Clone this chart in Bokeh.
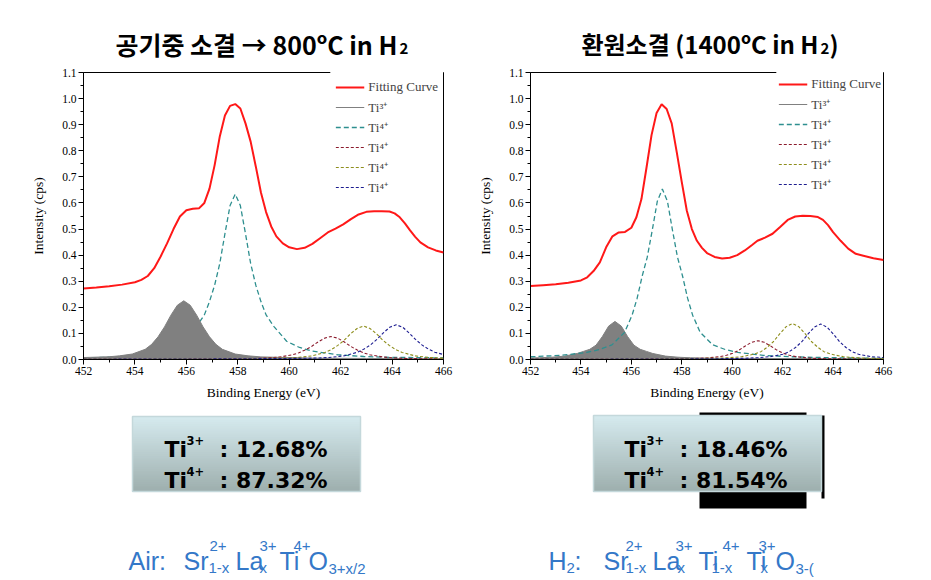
from bokeh.plotting import figure
from bokeh.models import Range1d, FixedTicker, PrintfTickFormatter, Legend, LegendItem
from bokeh.layouts import column, row
from bokeh.core.properties import value
from bokeh.embed import file_html
from bokeh.resources import INLINE

# ---------------- data ----------------
x_ticks = [452, 454, 456, 458, 460, 462, 464, 466]
x_minor = [453, 455, 457, 459, 461, 463, 465]
y_ticks = [0.0, 0.1, 0.2, 0.3, 0.4, 0.5, 0.6, 0.7, 0.8, 0.9, 1.0, 1.1]
y_minor = [0.05, 0.15, 0.25, 0.35, 0.45, 0.55, 0.65, 0.75, 0.85, 0.95, 1.05]

legend_labels = ["Fitting Curve", "Ti³⁺", "Ti⁴⁺", "Ti⁴⁺", "Ti⁴⁺", "Ti⁴⁺"]

# ---- left panel: sintered in air -> 800 C in H2 ----
air_fit_x = [452.0, 452.5, 453.0, 453.5, 454.0, 454.25, 454.5, 454.75, 455.0, 455.25, 455.5, 455.75,
             456.0, 456.25, 456.5, 456.7, 456.9, 457.1, 457.3, 457.5, 457.7, 457.9, 458.1, 458.3,
             458.5, 458.7, 458.9, 459.1, 459.3, 459.5, 459.75, 460.0, 460.3, 460.6, 460.9, 461.2,
             461.5, 461.8, 462.1, 462.4, 462.7, 463.0, 463.3, 463.6, 463.9, 464.1, 464.3, 464.5,
             464.7, 464.9, 465.1, 465.4, 465.7, 466.0]
air_fit_y = [0.272, 0.276, 0.281, 0.287, 0.296, 0.305, 0.320, 0.350, 0.395, 0.445, 0.500, 0.548,
             0.572, 0.578, 0.580, 0.600, 0.655, 0.745, 0.855, 0.935, 0.972, 0.979, 0.962, 0.905,
             0.835, 0.740, 0.640, 0.565, 0.510, 0.472, 0.445, 0.430, 0.423, 0.428, 0.443, 0.465,
             0.487, 0.502, 0.518, 0.538, 0.556, 0.566, 0.568, 0.568, 0.567, 0.560, 0.545, 0.522,
             0.495, 0.470, 0.449, 0.430, 0.418, 0.410]

air_ti3_x = [452.0, 453.0, 453.4, 453.9, 454.4, 454.65, 454.9, 455.15, 455.4, 455.65, 455.9, 456.15,
             456.4, 456.65, 456.9, 457.15, 457.4, 457.9, 458.4, 458.9, 459.9, 461.0, 463.0, 466.0]
air_ti3_y = [0.0075, 0.0105, 0.014, 0.021, 0.039, 0.058, 0.087, 0.125, 0.170, 0.208, 0.225, 0.208,
             0.170, 0.125, 0.087, 0.058, 0.039, 0.021, 0.014, 0.010, 0.0075, 0.005, 0.004, 0.003]

air_ti4a_x = [452.0, 453.0, 454.0, 454.9, 455.4, 455.9, 456.4, 456.7, 456.9, 457.1, 457.3, 457.5,
              457.7, 457.9, 458.1, 458.3, 458.5, 458.7, 458.9, 459.1, 459.4, 459.9, 460.4, 460.9,
              461.9, 462.9, 463.9, 466.0]
air_ti4a_y = [0.006, 0.009, 0.014, 0.032, 0.046, 0.070, 0.127, 0.171, 0.222, 0.285, 0.368, 0.482,
              0.590, 0.634, 0.590, 0.482, 0.368, 0.285, 0.222, 0.171, 0.127, 0.070, 0.046, 0.032,
              0.018, 0.0115, 0.0085, 0.006]

air_ti4b_x = [452.0, 456.0, 458.0, 458.63, 459.13, 459.63, 460.13, 460.38, 460.63, 460.88, 461.13,
              461.38, 461.63, 461.88, 462.13, 462.38, 462.63, 462.88, 463.13, 463.63, 464.13, 464.63, 466.0]
air_ti4b_y = [0.0005, 0.0012, 0.0026, 0.0037, 0.0057, 0.0097, 0.018, 0.026, 0.037, 0.051, 0.068,
              0.082, 0.088, 0.082, 0.068, 0.051, 0.037, 0.026, 0.018, 0.0097, 0.0057, 0.0037, 0.0019]

air_ti4c_x = [452.0, 456.0, 458.0, 459.89, 460.39, 460.89, 461.39, 461.64, 461.89, 462.14, 462.39,
              462.64, 462.89, 463.14, 463.39, 463.64, 463.89, 464.14, 464.39, 464.89, 465.39, 465.89, 466.0]
air_ti4c_y = [0.0008, 0.0015, 0.0025, 0.0054, 0.0083, 0.014, 0.027, 0.038, 0.054, 0.074, 0.099,
              0.119, 0.128, 0.119, 0.099, 0.074, 0.054, 0.038, 0.027, 0.014, 0.0083, 0.0054, 0.0052]

air_ti4d_x = [452.0, 456.0, 458.0, 460.0, 461.16, 461.66, 462.16, 462.66, 462.91, 463.16, 463.41,
              463.66, 463.91, 464.16, 464.41, 464.66, 464.91, 465.16, 465.41, 465.66, 466.0]
air_ti4d_y = [0.001, 0.0018, 0.0026, 0.004, 0.0056, 0.0086, 0.0146, 0.028, 0.040, 0.056, 0.077,
              0.102, 0.124, 0.133, 0.124, 0.102, 0.077, 0.056, 0.040, 0.028, 0.019]

# ---- right panel: reduction sintering (1400 C in H2) ----
h2_fit_x = [452.0, 452.5, 453.0, 453.5, 454.0, 454.25, 454.5, 454.75, 455.0, 455.25, 455.5, 455.75,
            456.0, 456.2, 456.4, 456.6, 456.8, 457.0, 457.2, 457.4, 457.6, 457.8, 458.0, 458.2,
            458.4, 458.6, 458.8, 459.0, 459.3, 459.6, 459.9, 460.2, 460.5, 460.8, 461.0, 461.3,
            461.6, 461.9, 462.2, 462.5, 462.8, 463.1, 463.4, 463.6, 463.8, 464.0, 464.3, 464.6,
            464.9, 465.2, 465.6, 466.0]
h2_fit_y = [0.282, 0.285, 0.288, 0.294, 0.303, 0.315, 0.339, 0.372, 0.430, 0.472, 0.487, 0.489,
            0.505, 0.545, 0.615, 0.735, 0.860, 0.945, 0.978, 0.960, 0.905, 0.795, 0.680, 0.570,
            0.500, 0.455, 0.428, 0.408, 0.393, 0.387, 0.390, 0.400, 0.418, 0.440, 0.455, 0.467,
            0.482, 0.508, 0.535, 0.548, 0.551, 0.550, 0.546, 0.535, 0.515, 0.488, 0.455, 0.425,
            0.405, 0.398, 0.388, 0.381]

h2_ti3_x = [452.0, 452.35, 452.85, 453.35, 453.85, 454.1, 454.35, 454.6, 454.85, 455.1, 455.35,
            455.6, 455.85, 456.1, 456.35, 456.6, 456.85, 457.35, 457.85, 458.35, 459.35, 461.0, 463.0, 466.0]
h2_ti3_y = [0.006, 0.0066, 0.0088, 0.013, 0.023, 0.031, 0.039, 0.055, 0.088, 0.128, 0.146,
            0.128, 0.088, 0.055, 0.039, 0.031, 0.023, 0.013, 0.0088, 0.0066, 0.0044, 0.004, 0.0035, 0.003]

h2_ti4a_x = [452.0, 453.23, 454.23, 454.73, 455.23, 455.73, 456.03, 456.23, 456.43, 456.63, 456.83,
             457.03, 457.23, 457.43, 457.63, 457.83, 458.03, 458.23, 458.43, 458.73, 459.23, 459.73,
             460.23, 461.23, 462.23, 463.23, 465.23, 466.0]
h2_ti4a_y = [0.0105, 0.016, 0.027, 0.038, 0.056, 0.104, 0.170, 0.235, 0.320, 0.392, 0.496,
             0.607, 0.653, 0.607, 0.496, 0.392, 0.320, 0.235, 0.170, 0.104, 0.056, 0.038,
             0.027, 0.016, 0.011, 0.008, 0.005, 0.0045]

h2_ti4b_x = [452.0, 455.0, 457.0, 458.02, 458.52, 459.02, 459.52, 459.77, 460.02, 460.27, 460.52,
             460.77, 461.02, 461.27, 461.52, 461.77, 462.02, 462.27, 462.52, 463.02, 463.52, 464.02, 466.0]
h2_ti4b_y = [0.0004, 0.0007, 0.0014, 0.0025, 0.0036, 0.0058, 0.011, 0.016, 0.024, 0.036, 0.052,
             0.066, 0.072, 0.066, 0.052, 0.036, 0.024, 0.016, 0.011, 0.0058, 0.0036, 0.0025, 0.0012]

h2_ti4c_x = [452.0, 456.0, 458.0, 459.39, 459.89, 460.39, 460.89, 461.14, 461.39, 461.64, 461.89,
             462.14, 462.39, 462.64, 462.89, 463.14, 463.39, 463.64, 463.89, 464.39, 464.89, 465.39, 466.0]
h2_ti4c_y = [0.0007, 0.0014, 0.0028, 0.0048, 0.0069, 0.011, 0.021, 0.030, 0.047, 0.069, 0.099,
             0.126, 0.138, 0.126, 0.099, 0.069, 0.047, 0.030, 0.021, 0.011, 0.0069, 0.0048, 0.0035]

h2_ti4d_x = [452.0, 456.0, 458.0, 460.0, 460.51, 461.01, 461.51, 462.01, 462.26, 462.51, 462.76,
             463.01, 463.26, 463.51, 463.76, 464.01, 464.26, 464.51, 464.76, 465.01, 465.51, 466.0]
h2_ti4d_y = [0.0007, 0.0014, 0.002, 0.0035, 0.0048, 0.0068, 0.011, 0.020, 0.030, 0.046, 0.068,
             0.098, 0.124, 0.136, 0.124, 0.098, 0.068, 0.046, 0.030, 0.020, 0.011, 0.0075]

# ratio boxes
air_ratio = ["12.68%", "87.32%"]
h2_ratio = ["18.46%", "81.54%"]

# ---------------- styling ----------------
RED = "#ff1818"
GRAY = "#808080"
TEAL = "#2e8f8f"
DRED = "#8b1a2c"
OLIVE = "#8e8e1c"
NAVY = "#1c1c90"
SERIF = "Liberation Serif"


def make_panel(width, bl, br, fit, ti3, ti4s, gray_on_top, leg_pad):
    p = figure(width=width, height=348, x_range=Range1d(452, 466), y_range=Range1d(0, 1.1),
               output_backend="svg", toolbar_location=None,
               min_border_left=bl, min_border_right=br, min_border_top=10, min_border_bottom=51)
    p.grid.visible = False
    p.outline_line_color = "black"
    p.outline_line_alpha = 1.0
    p.outline_line_width = 1

    if not gray_on_top:
        r_g = p.varea(x=ti3[0], y1=[0] * len(ti3[0]), y2=ti3[1], fill_color=GRAY)
        r_gl = p.line(ti3[0], ti3[1], line_color=GRAY, line_width=1)
    r_a = p.line(ti4s[0][0], ti4s[0][1], line_color=TEAL, line_width=1.3, line_dash="5 3")
    if gray_on_top:
        r_g = p.varea(x=ti3[0], y1=[0] * len(ti3[0]), y2=ti3[1], fill_color=GRAY)
        r_gl = p.line(ti3[0], ti3[1], line_color=GRAY, line_width=1)
    r_b = p.line(ti4s[1][0], ti4s[1][1], line_color=DRED, line_width=1.1, line_dash="3 2")
    r_c = p.line(ti4s[2][0], ti4s[2][1], line_color=OLIVE, line_width=1.1, line_dash="3 2")
    r_d = p.line(ti4s[3][0], ti4s[3][1], line_color=NAVY, line_width=1.1, line_dash="3 2")
    r_fit = p.line(fit[0], fit[1], line_color=RED, line_width=2)

    for ax in (p.xaxis[0], p.yaxis[0]):
        ax.axis_line_color = "black"
        ax.major_tick_in = 0
        ax.major_tick_out = 5
        ax.minor_tick_in = 0
        ax.minor_tick_out = 3
        ax.major_tick_line_color = "black"
        ax.minor_tick_line_color = "black"
        ax.major_label_text_font = SERIF
        ax.major_label_text_font_size = "11.5px"
        ax.major_label_text_color = "black"
        ax.major_label_standoff = 2
        ax.axis_label_text_font = SERIF
        ax.axis_label_text_font_size = "13.5px"
        ax.axis_label_text_font_style = "normal"
        ax.axis_label_text_color = "black"
    p.xaxis.ticker = FixedTicker(ticks=x_ticks, minor_ticks=x_minor)
    p.yaxis.ticker = FixedTicker(ticks=y_ticks, minor_ticks=y_minor)
    p.xaxis.formatter = PrintfTickFormatter(format="%d")
    p.yaxis.formatter = PrintfTickFormatter(format="%.1f")
    p.xaxis.axis_label = "Binding Energy (eV)"
    p.yaxis.axis_label = "Intensity (cps)"
    p.xaxis.axis_label_standoff = 7
    p.yaxis.axis_label_standoff = 13

    rends = [r_fit, r_gl, r_a, r_b, r_c, r_d]
    items = [LegendItem(label=lab, renderers=[r]) for lab, r in zip(legend_labels, rends)]
    leg = Legend(items=items, location="top_right", border_line_alpha=0,
                 background_fill_color="white", background_fill_alpha=1.0,
                 label_text_font=SERIF, label_text_font_size="13px",
                 glyph_width=29, glyph_height=20, label_height=20, spacing=0,
                 padding=leg_pad, margin=0, label_standoff=4)
    p.add_layout(leg)
    return p


# left figure: page x 0..460, frame 83..443 ; right figure: page x 460..908, frame 530..883
left = make_panel(460, 83, 17, (air_fit_x, air_fit_y), (air_ti3_x, air_ti3_y),
                  [(air_ti4a_x, air_ti4a_y), (air_ti4b_x, air_ti4b_y),
                   (air_ti4c_x, air_ti4c_y), (air_ti4d_x, air_ti4d_y)], True, 5)
right = make_panel(448, 70, 25, (h2_fit_x, h2_fit_y), (h2_ti3_x, h2_ti3_y),
                   [(h2_ti4a_x, h2_ti4a_y), (h2_ti4b_x, h2_ti4b_y),
                    (h2_ti4c_x, h2_ti4c_y), (h2_ti4d_x, h2_ti4d_y)], False, 2)

W = 908


def canvas(h):
    f = figure(width=W, height=h, x_range=Range1d(0, W), y_range=Range1d(h, 0),
               x_axis_type=None, y_axis_type=None, output_backend="svg",
               toolbar_location=None, min_border=0)
    f.outline_line_color = None
    f.grid.visible = False
    return f


def put(f, ox, oy, x, y, s, size, font="Liberation Sans", style="normal", align="left", color="black"):
    f.text(x=[x - ox], y=[y - oy], text=[s], text_font=value(font), text_font_size=value(size),
           text_font_style=style, text_align=align, text_baseline="alphabetic", text_color=color)


# ---- titles (page y 0..62) ----
top = canvas(62)
TO = (0, 0)
KR = "Noto Sans CJK KR"
put(top, *TO, 397, 43, "공기중 소결 → 800ºC in H", "25px", KR, "bold", "right")
put(top, *TO, 399, 48, "2", "15px", KR, "bold")
put(top, *TO, 818, 43, "환원소결 (1400ºC in H", "24px", KR, "bold", "right")
put(top, *TO, 820, 48, "2", "15px", KR, "bold")
put(top, *TO, 829, 43, ")", "24px", KR, "bold")

# ---- bottom (page y 410..578): ratio boxes and formulas ----
bot = canvas(168)
BO = (0, 410)


def grad_box(f, x0, x1, y0, y1, n=40):
    c0 = (213, 234, 238)
    c1 = (158, 175, 174)
    ls, rs, ts, bs, cs = [], [], [], [], []
    h = (y1 - y0) / n
    for i in range(n):
        t = i / (n - 1)
        c = tuple(int(round(a + (b - a) * t)) for a, b in zip(c0, c1))
        ls.append(x0 - BO[0]); rs.append(x1 - BO[0])
        ts.append(y0 + i * h - BO[1])
        bs.append(min(y1, y0 + (i + 1) * h + 1.0) - BO[1])
        cs.append("#%02x%02x%02x" % c)
    f.quad(left=ls, right=rs, top=ts, bottom=bs, fill_color=cs, line_color=None)
    f.quad(left=[x0 - BO[0]], right=[x1 - BO[0]], top=[y0 - BO[1]], bottom=[y1 - BO[1]],
           fill_color=None, line_color="#c4d8db", line_width=1.5)


# black shadow behind the right box
bot.quad(left=[699], right=[806], top=[412 - 410], bottom=[508 - 410], fill_color="black", line_color=None)
bot.quad(left=[821], right=[824], top=[415 - 410], bottom=[498 - 410], fill_color="black", line_color=None)

grad_box(bot, 132, 360, 416, 491)
grad_box(bot, 593, 821, 415, 491)

BF = "DejaVu Sans"
for bx, ratios in ((164, air_ratio), (624, h2_ratio)):
    for k, (ion, yb) in enumerate((("3+", 449), ("4+", 480))):
        put(bot, *BO, bx, yb, "Ti", "22px", BF, "bold")
        put(bot, *BO, bx + 22, yb - 9, ion, "11.5px", BF, "bold")
        put(bot, *BO, bx + 55, yb, ": " + ratios[k], "22px", BF, "bold")

BLUE = "#3478c8"
MS, SS = "25px", "15px"
# Air formula
put(bot, *BO, 128, 560, "Air:", MS, color=BLUE)
put(bot, *BO, 183, 560, "Sr", MS, color=BLUE)
put(bot, *BO, 209, 545, "2+", SS, color=BLUE)
put(bot, *BO, 208, 567, "1-x", SS, color=BLUE)
put(bot, *BO, 235, 560, "La", MS, color=BLUE)
put(bot, *BO, 259, 545, "3+", SS, color=BLUE)
put(bot, *BO, 259, 567, "x", SS, color=BLUE)
put(bot, *BO, 279, 560, "Ti", MS, color=BLUE)
put(bot, *BO, 293, 545, "4+", SS, color=BLUE)
put(bot, *BO, 308, 560, "O", MS, color=BLUE)
put(bot, *BO, 328, 568, "3+x/2", SS, color=BLUE)
# H2 formula
put(bot, *BO, 548, 560, "H", MS, color=BLUE)
put(bot, *BO, 566, 567, "2", SS, color=BLUE)
put(bot, *BO, 574, 560, ":", MS, color=BLUE)
put(bot, *BO, 603, 560, "Sr", MS, color=BLUE)
put(bot, *BO, 625, 545, "2+", SS, color=BLUE)
put(bot, *BO, 625, 567, "1-x", SS, color=BLUE)
put(bot, *BO, 652, 560, "La", MS, color=BLUE)
put(bot, *BO, 675, 545, "3+", SS, color=BLUE)
put(bot, *BO, 677, 567, "x", SS, color=BLUE)
put(bot, *BO, 698, 560, "Ti", MS, color=BLUE)
put(bot, *BO, 722, 545, "4+", SS, color=BLUE)
put(bot, *BO, 711, 567, "1-x", SS, color=BLUE)
put(bot, *BO, 746, 560, "Ti", MS, color=BLUE)
put(bot, *BO, 758, 545, "3+", SS, color=BLUE)
put(bot, *BO, 760, 567, "x", SS, color=BLUE)
put(bot, *BO, 775, 560, "O", MS, color=BLUE)
put(bot, *BO, 795, 568, "3-(", SS, color=BLUE)

layout = column(top, row(left, right, spacing=0), bot, spacing=0)
open("out.html", "w").write(file_html(layout, INLINE))
